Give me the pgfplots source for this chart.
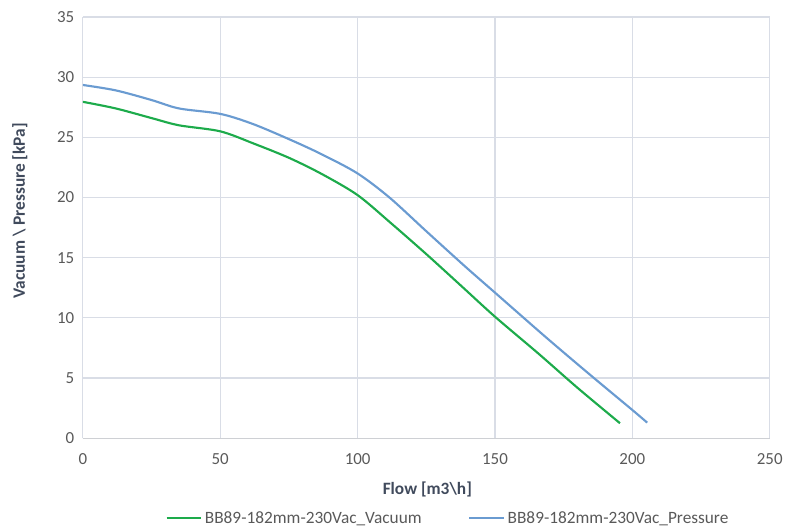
\documentclass[border=0pt]{standalone}
\usepackage{pgfplots}
\pgfplotsset{compat=1.18}
\usepackage{fontspec}
\setmainfont{Carlito}
\definecolor{vacgreen}{HTML}{1DAB4B}
\definecolor{prsblue}{HTML}{6A9BD1}
\definecolor{gridc}{HTML}{D9DDE6}
\definecolor{tickc}{HTML}{595959}
\definecolor{titlec}{HTML}{404A5C}
\begin{document}
\begin{tikzpicture}
\begin{axis}[
  name=ax,
  scale only axis,
  width=516pt, height=316.5pt,
  xmin=0, xmax=250, ymin=0, ymax=35,
  xtick={0,50,...,250}, ytick={0,5,...,35},
  grid=major,
  major grid style={gridc, line width=0.9pt},
  axis x line*=bottom, axis y line*=left,
  separate axis lines,
  x axis line style={draw=gridc!80!black!60, line width=0.9pt, -},
  y axis line style={draw=gridc, line width=0.9pt, -},
  tick style={draw=none},
  ticklabel style={font=\fontsize{12.7pt}{14pt}\selectfont, text=tickc},
  /pgf/number format/assume math mode=true,
  xticklabel style={yshift=-8pt},
  yticklabel style={xshift=-3pt},
  xlabel={\textbf{Flow [m3\textbackslash h]}},
  ylabel={\textbf{Vacuum \textbackslash{} Pressure [kPa]}},
  label style={font=\fontsize{13pt}{15pt}\selectfont, text=titlec},
  xlabel style={at={(rel axis cs:0.5015,-0.1209)}, anchor=center},
  ylabel style={at={(rel axis cs:-0.0916,0.540)}, anchor=center, rotate=0},
  legend columns=2,
  legend style={draw=none, fill=none, at={(0.532,-0.19)}, anchor=center,
    font=\fontsize{13pt}{15pt}\selectfont, text=tickc,
    /tikz/every even column/.append style={column sep=33pt}},
  legend cell align=left,
  legend image code/.code={\draw[#1, line width=1.6pt] (0cm,0cm) -- (26pt,0cm);},
]
\addplot[vacgreen, line width=1.6pt, smooth, tension=0.5] coordinates {
(0,27.95) (12,27.4) (25,26.6) (35,26.0) (50,25.5) (62,24.5) (75,23.3) (87,21.95)
(100,20.2) (112,17.9) (125,15.3) (138,12.6) (150,10.1) (166,7.0)
(180,4.2) (195.5,1.25)
};
\addlegendentry{BB89-182mm-230Vac\_Vacuum}
\addplot[prsblue, line width=1.6pt, smooth, tension=0.5] coordinates {
(0,29.35) (12,28.9) (25,28.1) (35,27.4) (50,26.95) (62,26.1) (76,24.75) (87.3,23.55)
(100,22.0) (111.6,20.0) (125,17.2) (139,14.3) (150,12.1) (168.5,8.4) (185,5.2)
(200,2.35) (205.4,1.3)
};
\addlegendentry{BB89-182mm-230Vac\_Pressure}
\end{axis}
\path[use as bounding box] ([xshift=-62.25pt,yshift=-69.75pt]ax.south west) rectangle ([xshift=12pt,yshift=12.75pt]ax.north east);
\end{tikzpicture}
\end{document}
